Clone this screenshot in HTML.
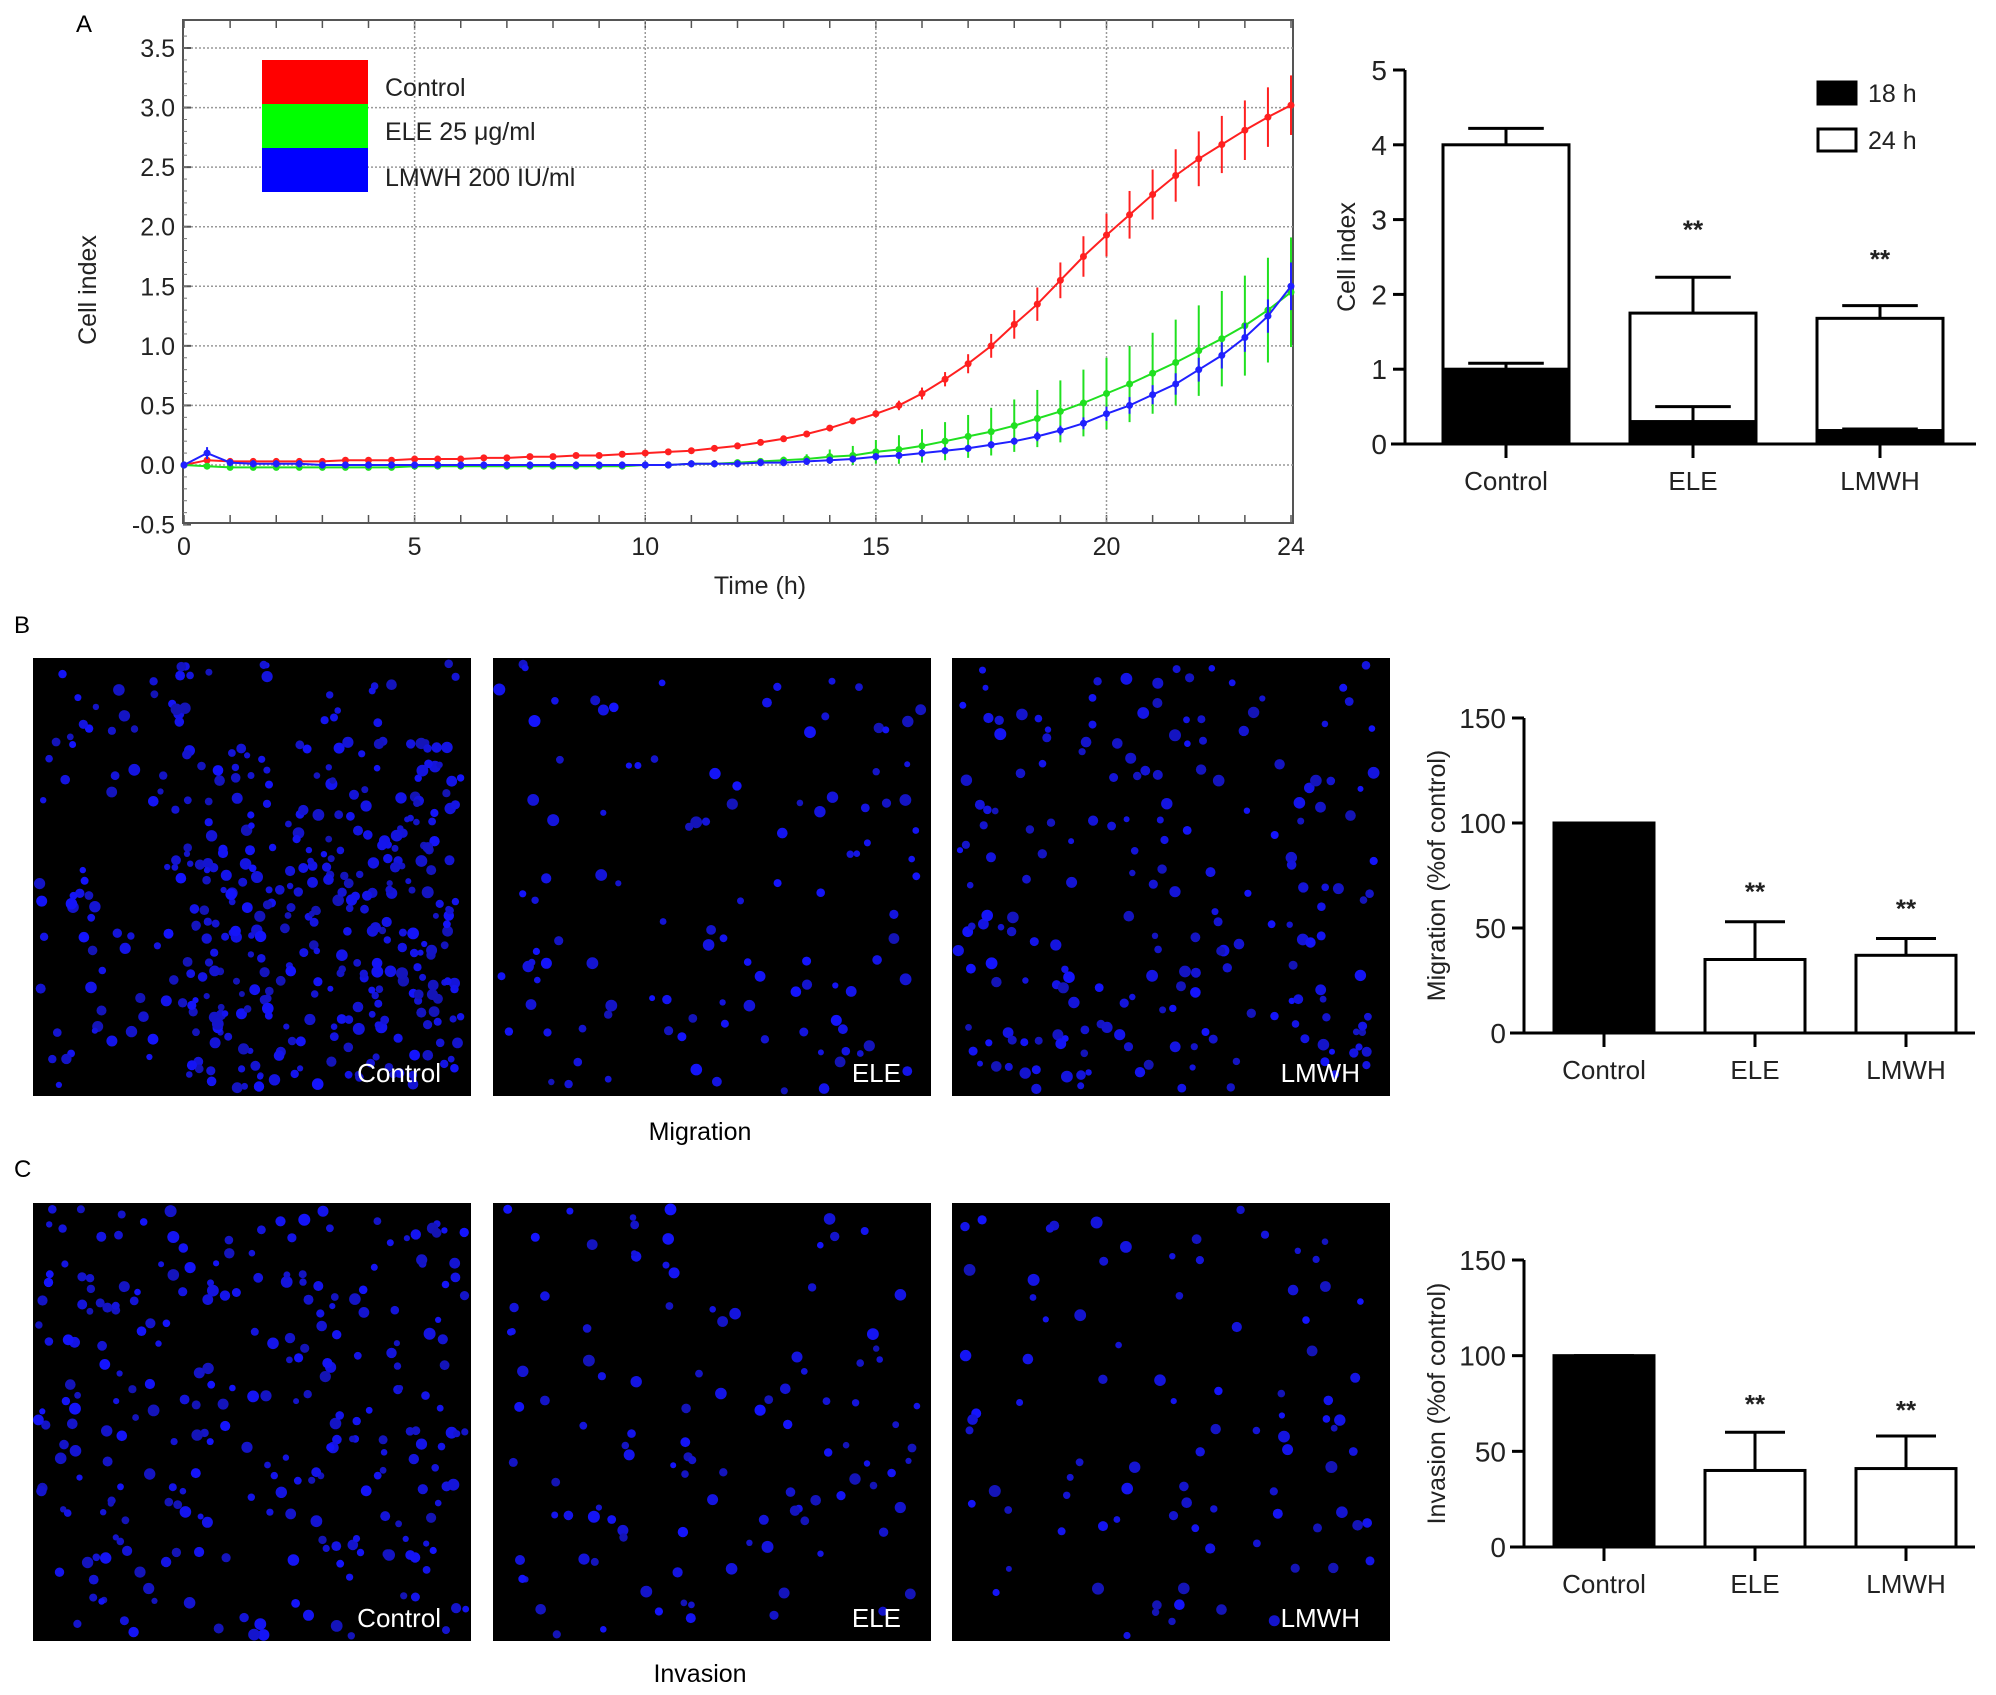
<!DOCTYPE html>
<html><head><meta charset="utf-8"><style>
html,body{margin:0;padding:0;background:#fff;}
svg{display:block;font-family:"Liberation Sans",Arial,sans-serif;}
</style></head><body>
<svg id="fig" width="1996" height="1695" viewBox="0 0 1996 1695" xmlns="http://www.w3.org/2000/svg">
<rect width="1996" height="1695" fill="#fff"/>
<text x="76" y="32" font-size="24">A</text>
<text x="14" y="633" font-size="24">B</text>
<text x="14" y="1177" font-size="24">C</text>
<g id="lineChart"></g>
<g id="barA"></g>
<g id="micro"></g>
<g id="barB"></g>
<g id="barC"></g>
<text x="700" y="1140" font-size="25" text-anchor="middle">Migration</text>
<text x="700" y="1682" font-size="25" text-anchor="middle">Invasion</text>
</svg>
<script>
var NS="http://www.w3.org/2000/svg";
function mk(p,tag,at){var e=document.createElementNS(NS,tag);for(var k in at)e.setAttribute(k,at[k]);p.appendChild(e);return e;}

// ---------- Panel A line chart data ----------
var hours=[0,0.5,1,1.5,2,2.5,3,3.5,4,4.5,5,5.5,6,6.5,7,7.5,8,8.5,9,9.5,10,10.5,11,11.5,12,12.5,13,13.5,14,14.5,15,15.5,16,16.5,17,17.5,18,18.5,19,19.5,20,20.5,21,21.5,22,22.5,23,23.5,24];
var controlVals=[0,.04,.03,.03,.03,.03,.03,.04,.04,.04,.05,.05,.05,.06,.06,.07,.07,.08,.08,.09,.1,.11,.12,.14,.16,.19,.22,.26,.31,.37,.43,.5,.6,.72,.85,1.0,1.18,1.35,1.55,1.75,1.93,2.1,2.27,2.43,2.57,2.69,2.81,2.92,3.02];
var controlErr=[.02,.02,.02,.02,.02,.02,.02,.02,.02,.02,.02,.02,.02,.02,.02,.02,.02,.02,.02,.02,.02,.02,.02,.02,.02,.02,.02,.02,.02,.02,.03,.04,.05,.06,.08,.1,.12,.14,.15,.17,.18,.2,.21,.22,.23,.24,.25,.25,.25];
var eleVals=[0,-.01,-.02,-.02,-.02,-.02,-.02,-.02,-.02,-.02,-.01,-.01,-.01,-.01,-.01,-.01,-.01,-.01,-.01,-.01,0,0,.01,.01,.02,.03,.04,.05,.07,.08,.11,.13,.16,.2,.24,.28,.33,.39,.45,.52,.6,.68,.77,.86,.96,1.06,1.17,1.3,1.45];
var eleErr=[.02,.02,.02,.02,.02,.02,.02,.02,.02,.02,.02,.02,.02,.02,.02,.02,.02,.02,.02,.02,.02,.02,.02,.02,.02,.02,.03,.04,.06,.08,.1,.12,.14,.16,.18,.2,.22,.24,.26,.28,.3,.32,.34,.36,.38,.4,.42,.44,.46];
var lmwhVals=[0,.1,.02,.01,.01,.01,0,0,0,0,0,0,0,0,0,0,0,0,0,0,0,0,.01,.01,.01,.02,.02,.03,.04,.05,.07,.08,.1,.12,.14,.17,.2,.24,.29,.35,.43,.5,.59,.68,.8,.92,1.07,1.25,1.5];
var lmwhErr=[.03,.05,.03,.03,.03,.03,.03,.03,.03,.03,.03,.03,.03,.03,.03,.03,.03,.03,.03,.03,.03,.03,.03,.03,.03,.03,.03,.03,.03,.03,.03,.03,.03,.03,.03,.03,.03,.04,.04,.05,.06,.07,.08,.09,.1,.11,.12,.14,.2];
var yTicksA=[-0.5,0,0.5,1,1.5,2,2.5,3,3.5];
var xTicksA=[0,5,10,15,20,24];

(function(){
 var g=document.getElementById('lineChart');
 var L=183,R=1293,T=20,B=523;
 function X(h){return L+1+h/24*(R-L-3);}
 function Y(v){return 465-v*(465-48)/3.5;}
 var fr=mk(g,'rect',{x:L,y:T,width:R-L,height:B-T,fill:'#fff',stroke:'#555','stroke-width':2});
 
 yTicksA.forEach(function(t){
  var y=Y(t);
  if(t>-0.5){var gl=mk(g,'line',{x1:L,x2:R,y1:y,y2:y,stroke:'#999','stroke-dasharray':'2,2','stroke-width':1.5});
  }
  mk(g,'line',{x1:L,x2:L+8,y1:y,y2:y,stroke:'#555','stroke-width':2});
  var tx=mk(g,'text',{x:L-8,y:y+9,'font-size':25,'text-anchor':'end',fill:'#222'});tx.textContent=t.toFixed(1);
  
 });
 for(var m=-0.5;m<3.7;m+=0.1){var yy=Y(m);mk(g,'line',{x1:L,x2:L+4,y1:yy,y2:yy,stroke:'#777','stroke-width':1});}
 for(var h=0;h<=24;h+=1){mk(g,'line',{x1:X(h),x2:X(h),y1:T,y2:T+8,stroke:'#555','stroke-width':1.5});mk(g,'line',{x1:X(h),x2:X(h),y1:B,y2:B-8,stroke:'#555','stroke-width':1.5});}
 xTicksA.forEach(function(t){
  var x=X(t);
  if(t>0&&t<24){var gl=mk(g,'line',{x1:x,x2:x,y1:T,y2:B,stroke:'#999','stroke-dasharray':'2,2','stroke-width':1.5});
  }
  var tx=mk(g,'text',{x:x,y:B+32,'font-size':25,'text-anchor':'middle',fill:'#222'});tx.textContent=t;
  
 });
 var xt=mk(g,'text',{x:760,y:594,'font-size':25,'text-anchor':'middle',fill:'#222'});xt.textContent='Time (h)';
 
 var yt=mk(g,'text',{x:0,y:0,'font-size':25,'text-anchor':'middle',fill:'#222',transform:'translate(96,290) rotate(-90)'});yt.textContent='Cell index';
 
 var series=[['control',controlVals,controlErr,'#ff2020'],['ele',eleVals,eleErr,'#20e020'],['lmwh',lmwhVals,lmwhErr,'#2020ff']];
 series.forEach(function(s){
  var sg=mk(g,'g',{});
  var d='';
  hours.forEach(function(h,i){d+=(i?'L':'M')+X(h).toFixed(1)+','+Y(s[1][i]).toFixed(1);});
  var p=mk(sg,'path',{d:d,fill:'none',stroke:s[3],'stroke-width':2});
  
  hours.forEach(function(h,i){
   var x=X(h),v=s[1][i],e=s[2][i];
   var eb=mk(sg,'line',{x1:x,x2:x,y1:Y(v+e),y2:Y(v-e),stroke:s[3],'stroke-width':2});
   
   var pt=mk(sg,'circle',{cx:x,cy:Y(v),r:3.5,fill:s[3]});
   
  });
 });
 var leg=[['Control','#ff0000',96],['ELE 25 \u03bcg/ml','#00ff00',140],['LMWH 200 IU/ml','#0000ff',186]];
 leg.forEach(function(l,i){
  var y=60+i*44;
  var r=mk(g,'rect',{x:262,y:y,width:106,height:44,fill:l[1]});
  
  var t=mk(g,'text',{x:385,y:l[2],'font-size':25,fill:'#222'});t.textContent=l[0];
  
 });
})();

// ---------- Bar chart A ----------
var barACats=['Control','ELE','LMWH'];
var bar24=[4.0,1.75,1.68];
var err24=[0.22,0.48,0.17];
var bar18=[1.0,0.3,0.18];
var err18=[0.08,0.2,0.02];
var yTicksBarA=[0,1,2,3,4,5];
var starsA=['','**','**'];

function barChart(gid,opt){
 var g=document.getElementById(gid);
 var ax=opt.ax,y0=opt.y0,yTop=opt.yTop,max=opt.max;
 function Y(v){return y0-v/max*(y0-yTop);}
 var bw=opt.bw;
 function CX(i){return opt.c0+i*opt.step;}
 mk(g,'line',{x1:ax,x2:ax,y1:yTop,y2:y0,stroke:'#000','stroke-width':3});
 mk(g,'line',{x1:ax-14,x2:opt.xend,y1:y0,y2:y0,stroke:'#000','stroke-width':3});
 opt.ticks.forEach(function(t){
  mk(g,'line',{x1:ax-12,x2:ax,y1:Y(t),y2:Y(t),stroke:'#000','stroke-width':3});
  var tx=mk(g,'text',{x:ax-18,y:Y(t)+10,'font-size':28,'text-anchor':'end',fill:'#222'});tx.textContent=t;
  
 });
 opt.cats.forEach(function(c,i){
  var cx=CX(i);
  mk(g,'line',{x1:cx,x2:cx,y1:y0,y2:y0+14,stroke:'#000','stroke-width':3});
  var tx=mk(g,'text',{x:cx,y:y0+46,'font-size':26,'text-anchor':'middle',fill:'#222'});tx.textContent=c;
  
  opt.layers.forEach(function(ly){
   var v=ly.vals[i],e=ly.errs[i];
   var fill=ly.fill(i);
   mk(g,'line',{x1:cx,x2:cx,y1:Y(v),y2:Y(v+e),stroke:'#000','stroke-width':3});
   mk(g,'line',{x1:cx-bw*0.3,x2:cx+bw*0.3,y1:Y(v+e),y2:Y(v+e),stroke:'#000','stroke-width':3});
   var r=mk(g,'rect',{x:cx-bw/2,y:Y(v),width:bw,height:y0-Y(v),fill:fill,stroke:'#000','stroke-width':3});
   
  });
  if(opt.stars[i]){var s=mk(g,'text',{x:cx,y:Y(opt.starY[i]),'font-size':26,'text-anchor':'middle','font-weight':'bold',fill:'#222'});s.textContent=opt.stars[i];
  }
 });
 var yt=mk(g,'text',{x:0,y:0,'font-size':25,'text-anchor':'middle',fill:'#222',transform:'translate('+opt.titleX+','+((yTop+y0)/2)+') rotate(-90)'});yt.textContent=opt.title;
 
}
barChart('barA',{ax:1405,y0:444,yTop:70,max:5,bw:126,c0:1506,step:187,xend:1976,ticks:yTicksBarA,cats:barACats,
 layers:[{name:'24h',vals:bar24,errs:err24,fill:function(){return '#fff';}},{name:'18h',vals:bar18,errs:err18,fill:function(){return '#000';}}],
 stars:starsA,starY:[0,2.75,2.35],title:'Cell index',titleX:1355});
(function(){var g=document.getElementById('barA');
 var r1=mk(g,'rect',{x:1818,y:82,width:38,height:22,fill:'#000',stroke:'#000','stroke-width':3});
 var t1=mk(g,'text',{x:1868,y:102,'font-size':25,fill:'#222'});t1.textContent='18 h';
 var r2=mk(g,'rect',{x:1818,y:129,width:38,height:22,fill:'#fff',stroke:'#000','stroke-width':3});
 var t2=mk(g,'text',{x:1868,y:149,'font-size':25,fill:'#222'});t2.textContent='24 h';
})();

// ---------- Bar charts B and C ----------
var pctCats=['Control','ELE','LMWH'];
var migrationVals=[100,35,37];
var migrationErr=[0,18,8];
var invasionVals=[100,40,41];
var invasionErr=[0,20,17];
var pctTicks=[0,50,100,150];
var pctStars=['','**','**'];
function fillCtrl(i){return i===0?'#000':'#fff';}
barChart('barB',{ax:1524,y0:1033,yTop:718,max:150,bw:100,c0:1604,step:151,xend:1975,ticks:pctTicks,cats:pctCats,
 layers:[{name:'',vals:migrationVals,errs:migrationErr,fill:fillCtrl}],stars:pctStars,starY:[0,63,55],title:'Migration (%of control)',titleX:1445});
barChart('barC',{ax:1524,y0:1547,yTop:1260,max:150,bw:100,c0:1604,step:151,xend:1975,ticks:pctTicks,cats:pctCats,
 layers:[{name:'',vals:invasionVals,errs:invasionErr,fill:fillCtrl}],stars:pctStars,starY:[0,70,67],title:'Invasion (%of control)',titleX:1445});

// ---------- Microscopy panels (decorative) ----------
(function(){
 var g=document.getElementById('micro');
 var seed=12345;function rnd(){seed=(seed*1103515245+12345)%2147483648;return seed/2147483648;}
 var xs=[33,493,952],rows=[[658,'migration'],[1203,'invasion']];
 var names=['Control','ELE','LMWH'];
 var counts=[[420,110,200],[260,110,90]];
 rows.forEach(function(rw,ri){
  xs.forEach(function(x,ci){
   var pg=mk(g,'g',{});
   mk(pg,'rect',{x:x,y:rw[0],width:438,height:438,fill:'#000'});
   var n=counts[ri][ci];
   for(var k=0;k<n;k++){
    var px,py;
    if(ci===0&&ri===0&&rnd()<0.6){px=x+150+rnd()*280;py=rw[0]+80+rnd()*350;}else{px=x+5+rnd()*428;py=rw[0]+5+rnd()*428;}
    var b=Math.floor(180+rnd()*75);
    mk(pg,'circle',{cx:px.toFixed(1),cy:py.toFixed(1),r:(3+rnd()*3).toFixed(1),fill:'rgb(20,20,'+b+')'});
   }
   var t=mk(pg,'text',{x:x+408,y:rw[0]+424,'font-size':26,'text-anchor':'end',fill:'#fff'});t.textContent=names[ci];
   
  });
 });
})();
</script>
</body></html>
